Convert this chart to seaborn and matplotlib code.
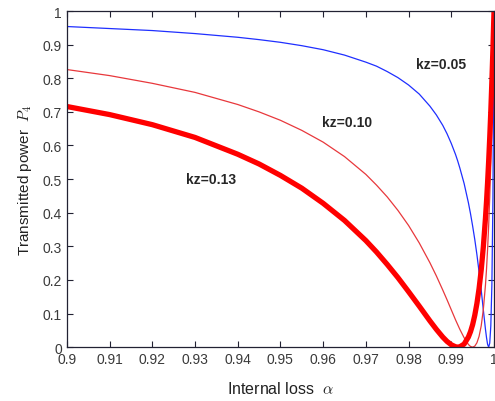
import numpy as np
import pandas as pd
import matplotlib
matplotlib.use("Agg")
import matplotlib.pyplot as plt
from matplotlib.ticker import FuncFormatter
import seaborn as sns

# Internal loss alpha (x) and transmitted power P4 for each coupling kz
alpha = [0.90, 0.91, 0.92, 0.93, 0.94, 0.945, 0.95, 0.955, 0.96, 0.965,
         0.97, 0.9725, 0.975, 0.9775, 0.98, 0.9825, 0.985, 0.9865, 0.988,
         0.989, 0.99, 0.991, 0.9915, 0.992, 0.993, 0.994, 0.9945, 0.995,
         0.9955, 0.996, 0.9965, 0.997, 0.9975, 0.998, 0.99825, 0.9985,
         0.99875, 0.999, 0.99925, 0.9995, 0.99975, 1.0]

p4_kz005 = [0.954, 0.948, 0.942, 0.933, 0.922, 0.915, 0.907, 0.897, 0.885,
            0.869, 0.848, 0.836, 0.820, 0.802, 0.780, 0.753, 0.717, 0.691,
            0.660, 0.635, 0.606, 0.573, 0.554, 0.533, 0.487, 0.430, 0.397,
            0.360, 0.320, 0.275, 0.224, 0.170, 0.111, 0.053, 0.028, 0.008,
            0.000, 0.012, 0.063, 0.184, 0.445, 1.0]

p4_kz010 = [0.826, 0.808, 0.785, 0.758, 0.722, 0.700, 0.675, 0.645, 0.610,
            0.567, 0.514, 0.482, 0.447, 0.407, 0.362, 0.310, 0.251, 0.212,
            0.170, 0.141, 0.111, 0.081, 0.067, 0.053, 0.028, 0.008, 0.002,
            0.000, 0.003, 0.013, 0.032, 0.063, 0.112, 0.185, 0.233, 0.292,
            0.362, 0.446, 0.548, 0.671, 0.819, 1.0]

p4_kz013 = [0.716, 0.692, 0.662, 0.624, 0.574, 0.545, 0.511, 0.473, 0.428,
            0.377, 0.317, 0.283, 0.246, 0.207, 0.165, 0.122, 0.078, 0.053,
            0.030, 0.017, 0.007, 0.001, 0.000, 0.001, 0.009, 0.030, 0.046,
            0.067, 0.095, 0.130, 0.174, 0.229, 0.298, 0.384, 0.434, 0.491,
            0.554, 0.624, 0.702, 0.791, 0.889, 1.0]

df = pd.DataFrame({"alpha": alpha, "kz005": p4_kz005,
                   "kz010": p4_kz010, "kz013": p4_kz013})

sns.set_style("ticks")
plt.rcParams["font.family"] = ["Liberation Sans", "DejaVu Sans"]
plt.rcParams["mathtext.fontset"] = "cm"

fig = plt.figure(figsize=(4.95, 4.02), dpi=100)
ax = fig.add_axes([0.135, 0.134, 0.863, 0.836])

sns.lineplot(data=df, x="alpha", y="kz005", ax=ax, color="#1f2fff", lw=0.9)
sns.lineplot(data=df, x="alpha", y="kz010", ax=ax, color="#e8383c", lw=0.9)
sns.lineplot(data=df, x="alpha", y="kz013", ax=ax, color="#ff0000", lw=3.8)

ax.set_xlim(0.9, 1.0)
ax.set_ylim(0, 1)
ax.set_xticks(np.arange(0.9, 1.0001, 0.01))
ax.set_yticks(np.arange(0, 1.0001, 0.1))
ax.xaxis.set_major_formatter(FuncFormatter(lambda v, p: "%g" % round(v, 2)))
ax.yaxis.set_major_formatter(FuncFormatter(lambda v, p: "%g" % round(v, 1)))
ax.tick_params(direction="in", top=True, right=True, length=4,
               labelsize=10, labelcolor="#3a3a3a", color="#222233")
for s in ax.spines.values():
    s.set_color("#222233")
    s.set_linewidth(0.9)

ax.set_xlabel(r"Internal loss  $\alpha$", fontsize=11.5, color="#222222", labelpad=10)
ax.set_ylabel(r"Transmitted power  $P_4$", fontsize=11, color="#222222", labelpad=6)

ax.text(0.9875, 0.842, "kz=0.05", fontsize=10, fontweight="bold", ha="center", va="center")
ax.text(0.9655, 0.67, "kz=0.10", fontsize=10, fontweight="bold", ha="center", va="center")
ax.text(0.9337, 0.50, "kz=0.13", fontsize=10, fontweight="bold", ha="center", va="center")

fig.savefig("out.png", dpi=100)
